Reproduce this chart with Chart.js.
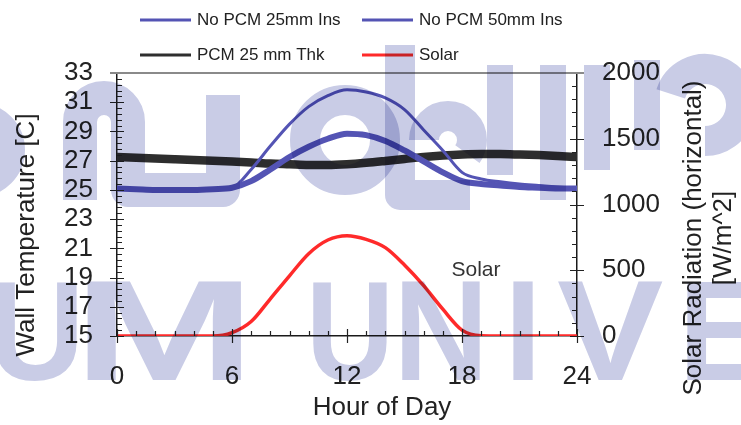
<!DOCTYPE html>
<html>
<head>
<meta charset="utf-8">
<script src="https://cdn.jsdelivr.net/npm/chart.js@4.4.1/dist/chart.umd.min.js"></script>
<style>
  html, body { margin: 0; padding: 0; background: #fff; }
</style>
</head>
<body>
<canvas id="wallChart" width="741" height="425"></canvas>
<script>
// hour of day, one reading per hour
const hours = [0, 1, 2, 3, 4, 5, 6, 7, 8, 9, 10, 11, 12, 13, 14, 15, 16, 17, 18, 19, 20, 21, 22, 23, 24];

// wall temperature [C]
const noPcm25 = [25.1, 25.05, 25.0, 25.0, 25.0, 25.05, 25.15, 26.4, 28.0, 29.5, 30.7, 31.45, 31.85, 31.7, 31.3, 30.5, 29.1, 27.7, 26.2, 25.75, 25.55, 25.4, 25.3, 25.2, 25.1];
const noPcm50 = [25.1, 25.05, 25.0, 25.0, 25.0, 25.05, 25.15, 25.6, 26.4, 27.25, 27.95, 28.5, 28.85, 28.75, 28.35, 27.7, 26.95, 26.2, 25.6, 25.4, 25.3, 25.2, 25.15, 25.1, 25.1];
const pcm25 = [27.25, 27.2, 27.15, 27.1, 27.05, 27.0, 26.95, 26.88, 26.8, 26.75, 26.7, 26.7, 26.75, 26.85, 26.98, 27.12, 27.25, 27.35, 27.42, 27.45, 27.45, 27.42, 27.38, 27.32, 27.25];

// solar radiation, horizontal [W/m^2]
const solar = [0, 0, 0, 0, 0, 0, 25, 110, 283, 458, 626, 730, 763, 735, 672, 540, 383, 204, 45, 2, 0, 0, 0, 0, 0];

const seriesNames = ['No PCM 25mm Ins', 'No PCM 50mm Ins', 'PCM 25 mm Thk', 'Solar'];

const hourTicks = [0, 6, 12, 18, 24];
const tempTicks = [15, 17, 19, 21, 23, 25, 27, 29, 31, 33];
const solarTicks = [0, 500, 1000, 1500, 2000];

const FONT = '"Liberation Sans", Arial, sans-serif';
const TEXT = '#222';

function points(ys) {
  return hours.map((h, i) => ({ x: h, y: ys[i] }));
}

// minor / major tick marks on all four sides
const tickMarks = {
  id: 'tickMarks',
  afterDraw(chart) {
    const { ctx, chartArea: a, scales } = chart;
    ctx.save();
    ctx.strokeStyle = '#222';
    ctx.lineWidth = 1.2;
    ctx.beginPath();
    for (let h = 0; h <= 24; h++) {
      const px = Math.round(scales.x.getPixelForValue(h)) + 0.5;
      const major = h % 6 === 0;
      ctx.moveTo(px, a.bottom + (major ? 7 : 0));
      ctx.lineTo(px, a.bottom - (major ? 7 : 5));
    }
    for (let i = 0; i <= 45; i++) {
      const v = 15 + i * 0.4;
      const py = Math.round(scales.y.getPixelForValue(v)) + 0.5;
      const major = i % 5 === 0;
      ctx.moveTo(a.left - (major ? 7 : 0), py);
      ctx.lineTo(a.left + (major ? 7 : 5), py);
    }
    for (let v = 0; v <= 2000; v += 100) {
      const py = Math.round(scales.y2.getPixelForValue(v)) + 0.5;
      const major = v % 500 === 0;
      ctx.moveTo(a.right + (major ? 7 : 0), py);
      ctx.lineTo(a.right - (major ? 7 : 5), py);
    }
    ctx.stroke();
    // top frame line
    ctx.strokeStyle = '#8a8a8a';
    ctx.lineWidth = 2;
    ctx.beginPath();
    ctx.moveTo(a.left - 7, a.top);
    ctx.lineTo(a.right + 7, a.top);
    ctx.stroke();
    ctx.restore();
  }
};

// axis titles, legend and the in-plot label
const labels = {
  id: 'labels',
  afterDraw(chart) {
    const ctx = chart.ctx;
    ctx.save();
    ctx.fillStyle = TEXT;
    ctx.textAlign = 'center';
    ctx.textBaseline = 'middle';

    ctx.font = '26px ' + FONT;
    ctx.fillText('Hour of Day', 382, 408);

    ctx.save();
    ctx.translate(27, 235);
    ctx.rotate(-Math.PI / 2);
    ctx.fillText('Wall Temperature [C]', 0, 0);
    ctx.restore();

    ctx.save();
    ctx.translate(694, 238);
    ctx.rotate(-Math.PI / 2);
    ctx.fillText('Solar Radiation (horizontal)', 0, 0);
    ctx.fillText('[W/m^2]', 0, 30);
    ctx.restore();

    ctx.font = '21px ' + FONT;
    ctx.fillStyle = '#333';
    ctx.fillText('Solar', 476, 270);

    // legend, two rows of two
    const slots = [[140, 20], [362, 20], [140, 55], [362, 55]];
    ctx.font = '17px ' + FONT;
    ctx.textAlign = 'left';
    chart.data.datasets.forEach((ds, i) => {
      const [lx, ly] = slots[i];
      ctx.strokeStyle = ds.borderColor;
      ctx.lineWidth = 3;
      ctx.beginPath();
      ctx.moveTo(lx, ly);
      ctx.lineTo(lx + 51, ly);
      ctx.stroke();
      ctx.fillStyle = TEXT;
      ctx.fillText(ds.label, lx + 57, ly);
    });
    ctx.restore();
  }
};

// pale repository watermark laid over the figure
const watermark = {
  id: 'watermark',
  afterDraw(chart) {
    const ctx = chart.ctx;
    ctx.save();
    ctx.globalCompositeOperation = 'multiply';
    ctx.fillStyle = '#c9cce6';
    ctx.strokeStyle = '#c9cce6';
    ctx.lineCap = 'butt';
    ctx.lineJoin = 'round';

    // upper script row, heavy strokes
    const P = Math.PI;
    ctx.lineWidth = 34;
    ctx.beginPath();
    ctx.arc(-22, 150, 30, -P / 2, P / 2);
    ctx.stroke();
    ctx.beginPath();
    ctx.moveTo(80, 200); ctx.lineTo(80, 122);
    ctx.arc(104, 122, 24, P, 0);
    ctx.lineTo(128, 190); ctx.lineTo(223, 190); ctx.lineTo(223, 95);
    ctx.stroke();
    ctx.lineWidth = 30;
    ctx.beginPath();
    ctx.arc(345, 140, 40, 0, 2 * P);
    ctx.stroke();
    ctx.beginPath();
    ctx.moveTo(400, 45); ctx.lineTo(400, 195); ctx.lineTo(470, 195);
    ctx.stroke();
    ctx.beginPath();
    ctx.arc(448, 140, 24, P, 2.2 * P);
    ctx.stroke();
    ctx.lineWidth = 26;
    [[500, 65, 175], [553, 65, 200], [597, 65, 170], [647, 60, 150]].forEach(([x, y0, y1]) => {
      ctx.beginPath(); ctx.moveTo(x, y0); ctx.lineTo(x, y1); ctx.stroke();
    });
    ctx.lineWidth = 30;
    ctx.beginPath();
    ctx.arc(705, 105, 36, -0.9 * P, 0.5 * P);
    ctx.stroke();

    // lower Latin row
    ctx.textAlign = 'left';
    ctx.textBaseline = 'alphabetic';
    const letters = [['U', -5, 77], ['M', 87, 242], ['U', 313, 387], ['N', 402, 480], ['I', 513, 533], ['V', 557, 663], ['E', 687, 760]];
    ctx.font = 'bold 140px "Liberation Sans"';
    letters.forEach(([ch, x0, x1]) => {
      const m = ctx.measureText(ch);
      const gw = m.actualBoundingBoxLeft + m.actualBoundingBoxRight;
      const gh = m.actualBoundingBoxAscent;
      ctx.save();
      ctx.translate(x0, 380);
      ctx.scale((x1 - x0) / gw, 98 / gh);
      ctx.fillText(ch, m.actualBoundingBoxLeft, 0);
      ctx.restore();
    });
    ctx.restore();
  }
};

const tickFont = { family: FONT, size: 26 };
const axisBorder = { display: true, color: '#1a1a1a', width: 1.5 };
const plainLabel = v => String(v);

new Chart(document.getElementById('wallChart'), {
  type: 'line',
  data: {
    datasets: [
      { label: seriesNames[0], data: points(noPcm25), yAxisID: 'y', borderColor: '#5454b4', borderWidth: 3 },
      { label: seriesNames[1], data: points(noPcm50), yAxisID: 'y', borderColor: '#5454b4', borderWidth: 6 },
      { label: seriesNames[2], data: points(pcm25), yAxisID: 'y', borderColor: '#2e2e2e', borderWidth: 8.5 },
      { label: seriesNames[3], data: points(solar), yAxisID: 'y2', borderColor: '#ff2a2a', borderWidth: 3.5 }
    ]
  },
  options: {
    responsive: false,
    animation: false,
    devicePixelRatio: 1,
    layout: { padding: { top: 73, left: 0, right: 0, bottom: 0 } },
    elements: {
      point: { radius: 0 },
      line: { cubicInterpolationMode: 'monotone', borderCapStyle: 'round', borderJoinStyle: 'round' }
    },
    plugins: { legend: { display: false }, tooltip: { enabled: false } },
    scales: {
      x: {
        type: 'linear', min: 0, max: 24,
        afterBuildTicks: s => { s.ticks = hourTicks.map(v => ({ value: v })); },
        afterFit: s => { s.height = 89; },
        grid: { display: false, drawTicks: false, tickLength: 0 },
        border: axisBorder,
        ticks: { font: tickFont, color: TEXT, padding: 25, maxRotation: 0, autoSkip: false, callback: plainLabel }
      },
      y: {
        type: 'linear', position: 'left', min: 15, max: 33,
        afterBuildTicks: s => { s.ticks = tempTicks.map(v => ({ value: v })); },
        afterFit: s => { s.width = 117; },
        grid: { display: false, drawTicks: false, tickLength: 0 },
        border: axisBorder,
        ticks: { font: tickFont, color: TEXT, padding: 24, autoSkip: false, callback: plainLabel }
      },
      y2: {
        type: 'linear', position: 'right', min: 0, max: 2000,
        afterBuildTicks: s => { s.ticks = solarTicks.map(v => ({ value: v })); },
        afterFit: s => { s.width = 164; },
        grid: { display: false, drawTicks: false, tickLength: 0 },
        border: axisBorder,
        ticks: { font: tickFont, color: TEXT, padding: 25, autoSkip: false, callback: plainLabel }
      }
    }
  },
  plugins: [tickMarks, labels, watermark]
});
</script>
</body>
</html>
